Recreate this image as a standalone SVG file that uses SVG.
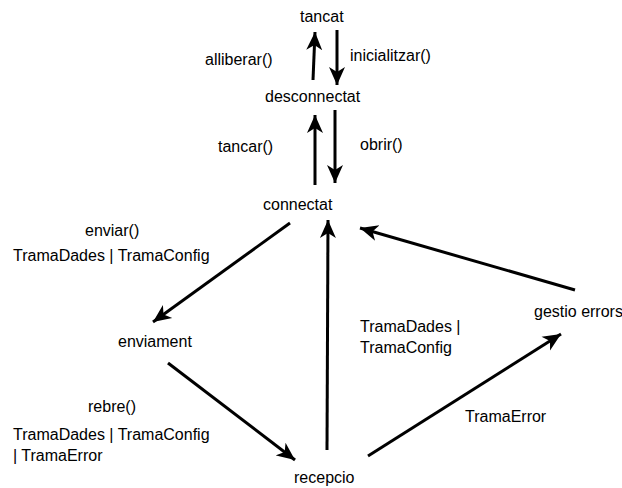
<svg xmlns="http://www.w3.org/2000/svg" width="622" height="488" viewBox="0 0 622 488">
<style>
text{font-family:"Liberation Sans",Arial,sans-serif;font-size:16px;fill:#000}
.c{stroke:#000;stroke-width:3;fill:none;marker-end:url(#ah)}
</style>
<defs>
<marker id="ah" markerUnits="userSpaceOnUse" markerWidth="22" markerHeight="18" refX="18" refY="8" orient="auto" viewBox="0 0 22 16">
<path d="M0,0 L18,8 L0,16 L5,8 Z" fill="#000"/>
</marker>
</defs>
<rect width="622" height="488" fill="#fff"/>
<g id="connectors">
<path class="c" d="M313,80 L315,32"/>
<path class="c" d="M337,30 L337,85"/>
<path class="c" d="M315,185 L315,115"/>
<path class="c" d="M335,110 L335,183"/>
<path class="c" d="M290,223 L153,322"/>
<path class="c" d="M168,363 L295,460"/>
<path class="c" d="M327,450 L328,220"/>
<path class="c" d="M368,456 L561,334"/>
<path class="c" d="M575,290 L360,228"/>
</g>
<g id="labels">
<text x="205" y="65">alliberar()</text>
<text x="350" y="61">inicialitzar()</text>
<text x="218" y="152">tancar()</text>
<text x="360" y="150">obrir()</text>
<text x="85" y="236">enviar()</text>
<text x="13" y="261">TramaDades | TramaConfig</text>
<text x="88" y="412">rebre()</text>
<text x="13" y="440">TramaDades | TramaConfig</text>
<text x="13" y="461">| TramaError</text>
<text x="360" y="332">TramaDades |</text>
<text x="360" y="353">TramaConfig</text>
<text x="465" y="422">TramaError</text>
</g>
<g id="tancat"><text x="300" y="22">tancat</text></g>
<g id="desconnectat"><text x="265" y="102">desconnectat</text></g>
<g id="connectat"><text x="263" y="210">connectat</text></g>
<g id="enviament"><text x="118" y="347">enviament</text></g>
<g id="recepcio"><text x="294" y="483">recepcio</text></g>
<g id="gestio_errors"><text x="534" y="317">gestio errors</text></g>
</svg>
